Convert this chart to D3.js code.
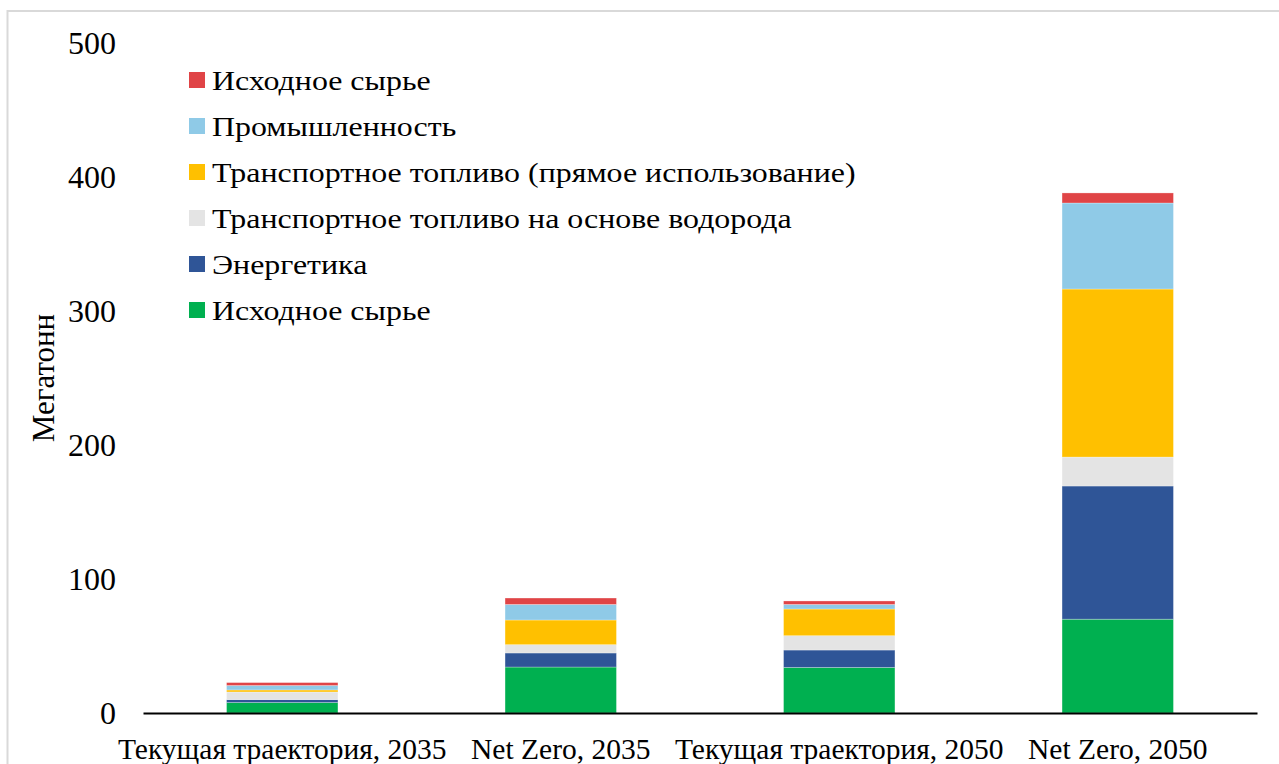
<!DOCTYPE html>
<html>
<head>
<meta charset="utf-8">
<script src="https://cdn.jsdelivr.net/npm/d3@7"></script>
<style>
  html, body { margin: 0; padding: 0; background: #fff; }
  svg { display: block; }
  text { font-family: "Liberation Serif", "Times New Roman", serif; fill: #000; }
</style>
</head>
<body>
<svg id="chart" width="1279" height="764"></svg>
<script>
// Hydrogen demand by use, megatonnes
const categories = ["Текущая траектория, 2035", "Net Zero, 2035", "Текущая траектория, 2050", "Net Zero, 2050"];
const feedstockBase = [7.8, 34.3, 34, 70];      // Исходное сырье (green)
const power = [2.2, 10.5, 13, 99.4];            // Энергетика
const hydrogenFuels = [5.7, 6.2, 10.7, 21.6];   // Транспортное топливо на основе водорода
const directFuel = [1.5, 18.4, 19.9, 125.4];    // Транспортное топливо (прямое использование)
const industry = [3.3, 11.6, 3.4, 64.2];        // Промышленность
const feedstockTop = [2.2, 4.8, 2.6, 7.5];      // Исходное сырье (red)
const yTicks = [0, 100, 200, 300, 400, 500];

// Stack order, bottom to top
const series = [
  { key: "s1", name: "Исходное сырье", values: feedstockBase, color: "#00B050" },
  { key: "s2", name: "Энергетика", values: power, color: "#2F5597" },
  { key: "s3", name: "Транспортное топливо на основе водорода", values: hydrogenFuels, color: "#E4E4E4" },
  { key: "s4", name: "Транспортное топливо (прямое использование)", values: directFuel, color: "#FFC000" },
  { key: "s5", name: "Промышленность", values: industry, color: "#8FCAE7" },
  { key: "s6", name: "Исходное сырье", values: feedstockTop, color: "#E04446" }
];

const rows = categories.map((c, i) => {
  const r = { category: c };
  series.forEach(s => { r[s.key] = s.values[i]; });
  return r;
});

const svg = d3.select("#chart");

// Outer frame
svg.append("rect")
  .attr("x", 7.5).attr("y", 11)
  .attr("width", 1300).attr("height", 800)
  .attr("fill", "none")
  .attr("stroke", "#D9D9D9")
  .attr("stroke-width", 2);

const x = d3.scaleBand()
  .domain(categories)
  .range([143, 1257])
  .paddingInner(0.6)
  .paddingOuter(0.3);

const y = d3.scaleLinear()
  .domain([0, 500])
  .range([713, 43]);

const stack = d3.stack().keys(series.map(s => s.key));
const stacked = stack(rows);

const layers = svg.append("g")
  .selectAll("g")
  .data(stacked)
  .join("g")
  .attr("fill", (d, i) => series[i].color);

layers.selectAll("rect")
  .data(d => d)
  .join("rect")
  .attr("x", d => x(d.data.category))
  .attr("width", x.bandwidth())
  .attr("y", d => y(d[1]))
  .attr("height", d => y(d[0]) - y(d[1]))
  .attr("stroke", "#ffffff")
  .attr("stroke-opacity", 0.35)
  .attr("stroke-width", 0.8);

// Y axis labels (no axis line)
const yAxis = svg.append("g")
  .attr("transform", "translate(116,0)")
  .call(d3.axisLeft(y).tickValues(yTicks).tickSize(0).tickPadding(0));
yAxis.select(".domain").remove();
yAxis.selectAll("text")
  .attr("font-family", "Liberation Serif, serif")
  .attr("font-size", 32)
  .attr("fill", "#000")
  .attr("dy", "0.32em");

// X axis
const xAxis = svg.append("g")
  .attr("transform", "translate(0,713)")
  .call(d3.axisBottom(x).tickSize(0).tickPadding(0));
xAxis.select(".domain")
  .attr("stroke", "#000")
  .attr("stroke-width", 2);
xAxis.selectAll("text")
  .attr("font-family", "Liberation Serif, serif")
  .attr("font-size", 29.5)
  .attr("fill", "#000")
  .attr("dy", null)
  .attr("y", 46);

// Y axis title
svg.append("text")
  .attr("transform", "translate(54,378) rotate(-90)")
  .attr("text-anchor", "middle")
  .attr("font-size", 31)
  .text("Мегатонн");

// Legend, top entry is the top of the stack
const legendItems = series.slice().reverse();
const legend = svg.append("g")
  .selectAll("g")
  .data(legendItems)
  .join("g")
  .attr("transform", (d, i) => `translate(189, ${80 + i * 46})`);

legend.append("rect")
  .attr("x", 0).attr("y", -8)
  .attr("width", 16).attr("height", 16)
  .attr("fill", d => d.color);

legend.append("text")
  .attr("transform", "translate(23,0) scale(1.14,1)")
  .attr("dy", "0.36em")
  .attr("font-size", 28)
  .text(d => d.name);
</script>
</body>
</html>
